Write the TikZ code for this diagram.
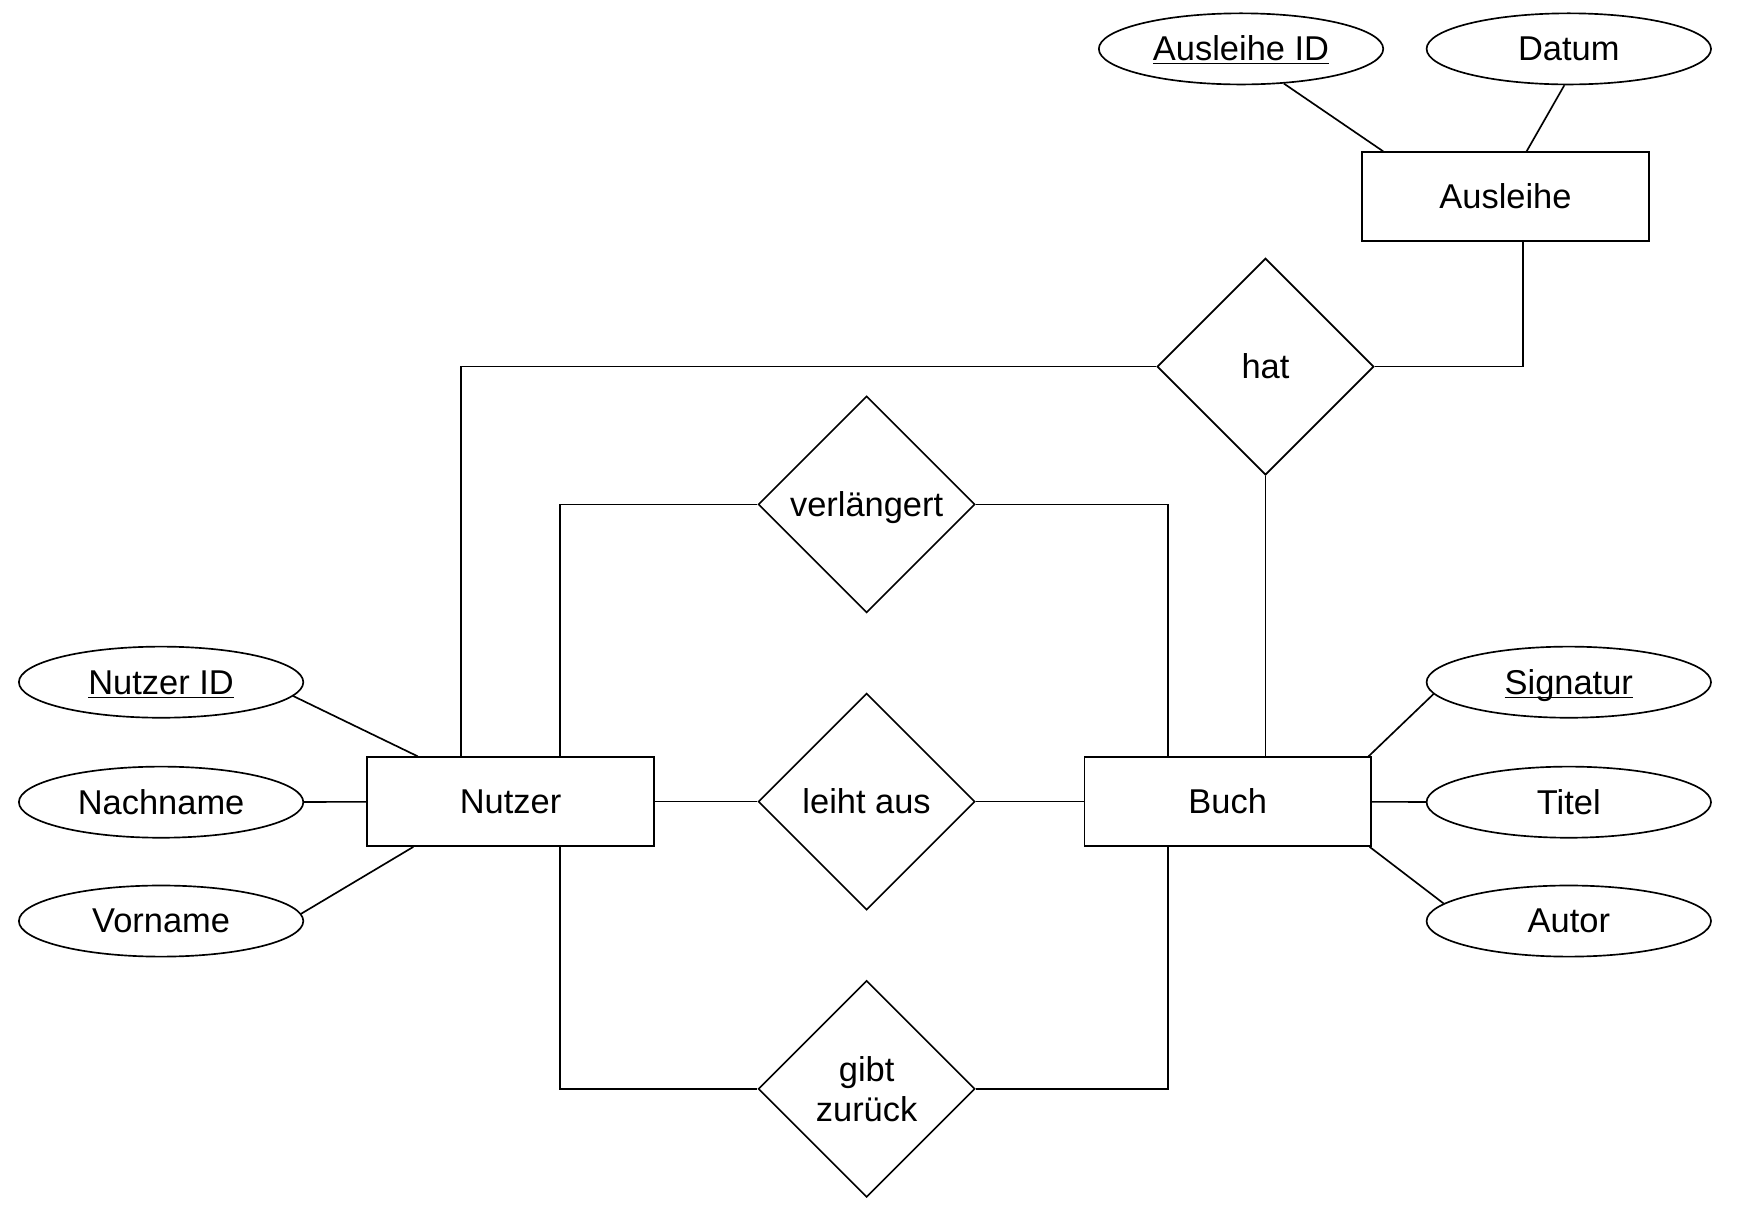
\documentclass[tikz,border=0pt]{standalone}
\usepackage{fontspec}
\setmainfont{Liberation Sans}
\usetikzlibrary{shapes.geometric}
\newcommand\keyattr[1]{\raisebox{0pt}[\height][0pt]{\underline{\raisebox{0pt}[\height][0pt]{#1}}}}

\begin{document}
\begin{tikzpicture}[x=0.5pt, y=-0.5pt, line width=0.75pt,
		every node/.style={font=\fontsize{15.5}{18}\selectfont, text height=14pt, text depth=3.3pt},
		entity/.style={draw, rectangle, minimum width=129pt, minimum height=40pt, inner sep=0pt},
		relation/.style={draw, diamond, minimum width=97.5pt, minimum height=97.5pt, inner sep=0pt},
		attribute/.style={draw, ellipse, minimum width=128pt, minimum height=32pt, inner sep=0pt}]
		\useasboundingbox (0,0) rectangle (1567,1107);
		\node[entity] (nutzer)   at (459.5,721.5) {Nutzer};
		\node[entity] (buch)     at (1105,721.5)  {Buch};
		\node[entity] (ausleihe) at (1355,177)    {Ausleihe};
		\node[relation] (hat)    at (1139,330)    {hat};
		\node[relation] (verl)   at (780,454)     {verlängert};
		\node[relation] (leiht)  at (780,721.5)   {leiht aus};
		\node[relation, align=center, text height=, text depth=] (gibt) at (780,980) {gibt\\zurück};
		\node[attribute] (auid)     at (1117,44)  {\keyattr{Ausleihe ID}};
		\node[attribute] (datum)    at (1412,44)  {Datum};
		\node[attribute] (nid)      at (145,614)  {\keyattr{Nutzer ID}};
		\node[attribute] (nachname) at (145,722)  {Nachname};
		\node[attribute] (vorname)  at (145,829)  {Vorname};
		\node[attribute] (signatur) at (1412,614) {\keyattr{Signatur}};
		\node[attribute] (titel)    at (1412,722) {Titel};
		\node[attribute] (autor)    at (1412,829) {Autor};
		\draw ([xshift=-22.25pt]nutzer.north) |- (hat.west);
		\draw (hat.east) -| ([xshift=8pt]ausleihe.south);
		\draw (hat.south) -- (hat.south |- buch.north);
		\draw ([xshift=22.25pt]nutzer.north) |- (verl.west);
		\draw (verl.east) -| ([xshift=-27pt]buch.north);
		\draw ([xshift=22.25pt]nutzer.south) |- (gibt.west);
		\draw (gibt.east) -| ([xshift=-27pt]buch.south);
		\path[draw]
		(nutzer) edge (leiht)
		(leiht) edge (buch)
		(auid.-39) edge ([xshift=-55pt]ausleihe.north)
		(datum.-97) edge ([xshift=9.5pt]ausleihe.north)
		(nid.-6) edge ([xshift=-41.75pt]nutzer.north)
		(nachname) edge (nutzer)
		(vorname.3) edge ([xshift=-43.75pt]nutzer.south)
		(signatur.185) edge ([xshift=-1.5pt]buch.north east)
		(titel) edge (buch)
		(autor.172) edge ([xshift=-1pt]buch.south east);
	\end{tikzpicture}
\end{document}
